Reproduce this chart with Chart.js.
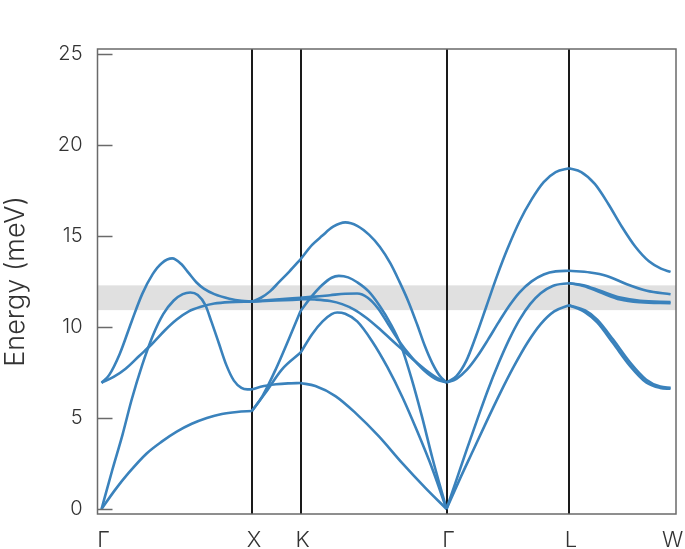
<!DOCTYPE html>
<html><head><meta charset="utf-8">
<script src="https://cdn.jsdelivr.net/npm/chart.js@4.4.1/dist/chart.umd.min.js"></script>
<style>html,body{margin:0;padding:0;background:#fff;}#wrap{width:685px;height:549px;}</style>
</head><body><div id="wrap"><canvas id="c" width="685" height="549"></canvas></div>
<script>
// High-symmetry path (k-path distance) and labels
const kLabels = ['Γ','X','K','Γ','L','W'];
const kTicks = [0, 1, 1.324, 2.294, 3.109, 3.784];
const energyTicks = [0, 5, 10, 15, 20, 25];
const gapBand = [10.92, 12.28];

// Branches per segment: [k, energy (meV)]
const gammaX = [
  [[0,6.93],[0.05,7.35],[0.12,8.5],[0.2,10.3],[0.27,11.8],[0.34,12.9],[0.40,13.5],[0.47,13.76],[0.53,13.45],[0.58,12.95],[0.63,12.45],[0.68,12.1],[0.75,11.8],[0.85,11.55],[0.93,11.43],[1,11.39]],
  [[0,6.93],[0.08,7.25],[0.16,7.7],[0.25,8.4],[0.34,9.1],[0.42,9.8],[0.5,10.4],[0.58,10.85],[0.66,11.1],[0.75,11.28],[0.85,11.36],[1,11.39]],
  [[0,0],[0.07,2.1],[0.14,4.1],[0.2,6.0],[0.27,7.9],[0.34,9.5],[0.41,10.7],[0.48,11.45],[0.54,11.8],[0.59,11.89],[0.64,11.75],[0.69,11.2],[0.73,10.3],[0.78,9.1],[0.83,7.9],[0.88,7.05],[0.93,6.65],[0.97,6.57],[1,6.57]],
  [[0,0],[0.09,1.05],[0.18,1.98],[0.3,3.05],[0.4,3.7],[0.5,4.25],[0.6,4.68],[0.7,5.0],[0.8,5.22],[0.9,5.33],[1,5.38]]
];
const xK = [
  [[1,6.57],[1.08,6.75],[1.16,6.85],[1.24,6.9],[1.324,6.92]],
  [[1,5.38],[1.07,6.2],[1.16,7.7],[1.245,9.32],[1.324,10.88]],
  [[1,5.38],[1.09,6.38],[1.2,7.67],[1.324,8.59]],
  [[1,11.39],[1.16,11.45],[1.324,11.5]],
  [[1,11.39],[1.16,11.5],[1.324,11.6]],
  [[1,11.39],[1.06,11.6],[1.12,11.95],[1.178,12.44],[1.25,13.05],[1.324,13.72]]
];
const kGamma = [
  [[1.324,13.72],[1.40,14.5],[1.467,15.0],[1.54,15.5],[1.621,15.74],[1.70,15.55],[1.78,15.05],[1.85,14.4],[1.92,13.5],[1.98,12.5],[2.04,11.4],[2.10,10.1],[2.15,8.95],[2.2,8.0],[2.25,7.3],[2.294,6.95]],
  [[1.324,10.88],[1.40,11.7],[1.467,12.3],[1.53,12.7],[1.578,12.8],[1.64,12.72],[1.70,12.45],[1.776,11.95],[1.85,11.15],[1.92,10.2],[1.99,9.0],[2.06,7.2],[2.13,5.1],[2.2,2.8],[2.294,0]],
  [[1.324,8.59],[1.40,9.6],[1.47,10.3],[1.53,10.7],[1.567,10.79],[1.62,10.72],[1.70,10.3],[1.80,9.2],[1.90,7.8],[2.0,6.15],[2.1,4.25],[2.2,2.2],[2.294,0]],
  [[1.324,6.92],[1.422,6.75],[1.555,6.2],[1.688,5.28],[1.843,4.0],[1.998,2.53],[2.153,1.16],[2.294,0]],
  [[1.324,11.6],[1.42,11.66],[1.52,11.74],[1.62,11.82],[1.70,11.83],[1.77,11.6],[1.84,11.0],[1.91,10.1],[1.98,9.2],[2.06,8.35],[2.14,7.65],[2.22,7.15],[2.294,6.95]],
  [[1.324,11.52],[1.42,11.5],[1.52,11.42],[1.6,11.25],[1.68,10.95],[1.76,10.5],[1.84,9.95],[1.92,9.35],[2.0,8.75],[2.08,8.15],[2.16,7.6],[2.23,7.2],[2.294,6.95]]
];
const gammaL = [
  [[2.294,6.95],[2.36,7.3],[2.426,8.15],[2.49,9.5],[2.56,11.15],[2.63,12.8],[2.70,14.3],[2.78,15.8],[2.86,17.0],[2.94,17.95],[3.02,18.5],[3.109,18.71]],
  [[2.294,6.95],[2.36,7.15],[2.43,7.65],[2.5,8.4],[2.57,9.3],[2.64,10.25],[2.71,11.15],[2.78,11.9],[2.86,12.5],[2.94,12.88],[3.02,13.05],[3.109,13.08]],
  [[2.294,0],[2.36,1.6],[2.43,3.3],[2.5,4.95],[2.57,6.55],[2.64,8.0],[2.71,9.3],[2.78,10.4],[2.85,11.25],[2.92,11.85],[3.0,12.25],[3.109,12.4]],
  [[2.294,0],[2.38,1.6],[2.47,3.2],[2.56,4.8],[2.65,6.35],[2.74,7.8],[2.83,9.1],[2.92,10.15],[3.01,10.85],[3.109,11.19]]
];
const lW = [
  [[3.109,18.71],[3.19,18.5],[3.28,17.85],[3.37,16.75],[3.46,15.5],[3.55,14.4],[3.64,13.6],[3.72,13.2],[3.784,13.02]],
  [[3.109,13.08],[3.249,12.99],[3.36,12.8],[3.493,12.34],[3.626,11.98],[3.784,11.79]],
  [[3.109,12.4],[3.205,12.29],[3.316,11.98],[3.449,11.61],[3.582,11.43],[3.784,11.37]],
  [[3.109,12.4],[3.205,12.25],[3.316,11.9],[3.449,11.5],[3.582,11.35],[3.784,11.3]],
  [[3.109,11.19],[3.216,10.9],[3.296,10.4],[3.402,9.3],[3.515,8.04],[3.622,7.1],[3.715,6.72],[3.784,6.66]],
  [[3.109,11.19],[3.216,10.8],[3.296,10.25],[3.402,9.1],[3.515,7.85],[3.622,6.95],[3.715,6.65],[3.784,6.6]]
];

const segments = [gammaX, xK, kGamma, gammaL, lW];
const lineColor = '#3a82bc';
const datasets = [];
segments.forEach(seg => seg.forEach(br => datasets.push({
  data: br.map(p => ({x: p[0], y: p[1]})),
  borderColor: lineColor, borderWidth: 2.6, pointRadius: 0,
  cubicInterpolationMode: 'monotone', fill: false
})));

const FONT = 'Inter, "Noto Sans", sans-serif';

const decor = {
  id: 'decor',
  beforeDraw(chart) {
    const {ctx, chartArea: a, scales: {y}} = chart;
    const y1 = y.getPixelForValue(gapBand[1]), y0 = y.getPixelForValue(gapBand[0]);
    ctx.save();
    ctx.fillStyle = '#e0e0e0';
    ctx.fillRect(a.left, y1, a.right - a.left, y0 - y1);
    ctx.restore();
  },
  afterDraw(chart) {
    const {ctx, chartArea: a, scales: {y}} = chart;
    ctx.save();
    ctx.strokeStyle = '#6a6a6a';
    ctx.lineWidth = 1.5;
    energyTicks.forEach(v => {
      const py = Math.round(y.getPixelForValue(v)) + 0.5;
      ctx.beginPath(); ctx.moveTo(a.left, py); ctx.lineTo(a.left + 15, py); ctx.stroke();
    });
    ctx.strokeRect(a.left, a.top, a.right - a.left, a.bottom - a.top);
    ctx.restore();
  }
};

new Chart(document.getElementById('c'), {
  type: 'line',
  data: {datasets},
  options: {
    responsive: false, animation: false,
    layout: {padding: {top: 49, right: 9, left: 0, bottom: 0}},
    plugins: {legend: {display: false}, tooltip: {enabled: false}},
    scales: {
      x: {
        type: 'linear', min: -0.027, max: 3.82,
        afterBuildTicks: s => { s.ticks = kTicks.map(v => ({value: v})); },
        afterFit: s => { s.height = 35; s.paddingLeft = 0; s.paddingRight = 0; },
        ticks: {callback: (v, i) => kLabels[i], font: {family: FONT, size: 22, weight: 300}, color: '#333', padding: 13, maxRotation: 0, autoSkip: false, labelOffset: 2},
        grid: {color: c => (c.index === 0 || c.index === kTicks.length - 1) ? 'rgba(0,0,0,0)' : '#1a1a1a', lineWidth: 2, drawTicks: false},
        border: {display: false}
      },
      y: {
        type: 'linear', min: -0.275, max: 25.26,
        afterBuildTicks: s => { s.ticks = energyTicks.map(v => ({value: v})); },
        afterFit: s => { s.width = 97.5; s.paddingTop = 0; s.paddingBottom = 0; },
        ticks: {font: {family: FONT, size: 20, weight: 300}, color: '#333', padding: 15},
        grid: {display: false, drawTicks: false},
        border: {display: false},
        title: {display: true, text: 'Energy (meV)', font: {family: FONT, size: 27, weight: 300}, color: '#333', padding: {top: 0, bottom: 0}}
      }
    }
  },
  plugins: [decor]
});
</script></body></html>
